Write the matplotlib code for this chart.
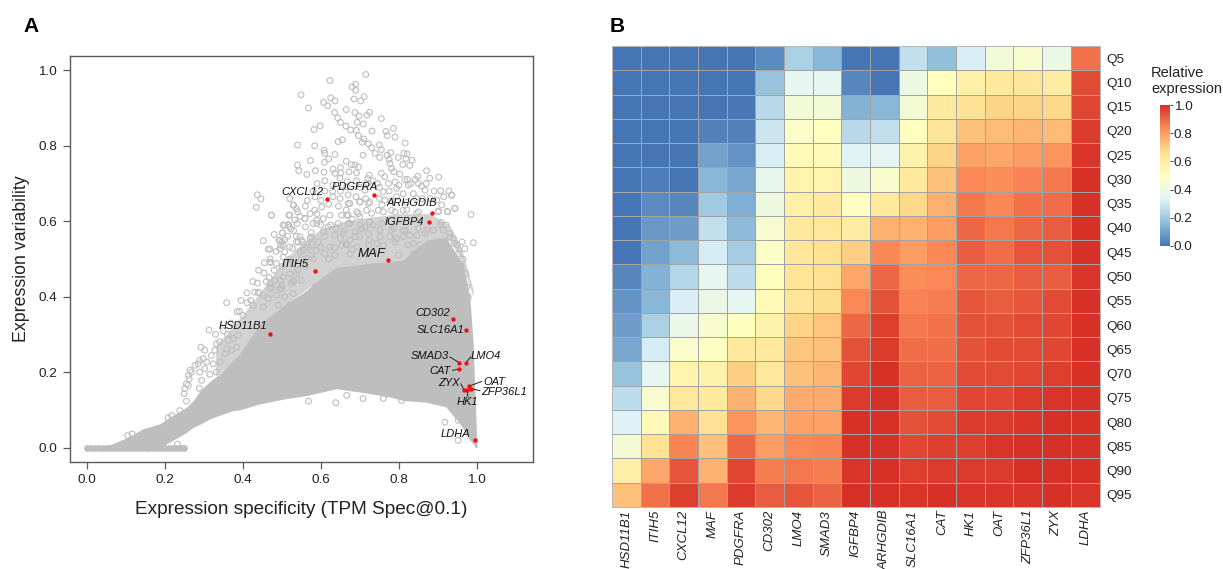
import matplotlib
matplotlib.use("Agg")
import matplotlib.pyplot as plt
from matplotlib.colors import LinearSegmentedColormap

plt.rcParams['font.family'] = ['Liberation Sans', 'DejaVu Sans']

W, H = 1223, 569

# ---------- panel A data ----------
mass_x = [.05,.10,.144,.187,.204,.255,.273,.29,.315,.341,.375,.392,.444,.512,.564,.58,.64,.70,.726,.777,.81,.87,.92,.956,.965,.982,.99,.996,1.0]
mass_upper = [.004,.025,.05,.063,.075,.107,.125,.151,.175,.196,.232,.249,.329,.382,.417,.435,.478,.485,.489,.493,.497,.55,.558,.50,.489,.398,.284,.12,.01]
mass_lower = [0,0,0,0,.01,.04,.054,.062,.076,.086,.098,.10,.116,.13,.138,.142,.156,.147,.143,.134,.125,.12,.108,.064,.05,.02,.01,0,0]

sparse_x = [.33,.39,.45,.50,.55,.60,.66,.72,.80,.88,.93,.96,.99]
sparse_upper = [.27,.34,.42,.49,.54,.58,.60,.61,.62,.62,.59,.53,.42]
sparse_lower = [.19,.24,.32,.37,.41,.45,.47,.48,.49,.54,.55,.50,.40]

zero_x = [0,.01,.02,.03,.04,.05,.06,.07,.08,.09,.10,.11,.12,.13,.14,.15,.16,.17,.18,.19,.20,.21,.22,.23,.24,.25]
zero_y = [0]*len(zero_x)

gene_x = [.715,.623,.689,.680,.689,.549,.625,.711,.685,.702,.636,.607,.617,.568,.665,.687,.725,.718,.635,.643,.698,.755,.650,.693,.709,.664,.598,.582,.676,.691,.731,.786,.767,.770,.790,.696,.644,.655,.710,.706,.722,.816,.540,.584,.730,.750,.755,.608,.610,.636,.620,.708,.739,.779,.813,.821,.770,.751,.798,.818,.573,.609,.665,.834,.775,.777,.678,.687,.696,.540,.543,.586,.564,.631,.650,.608,.636,.651,.672,.691,.724,.755,.781,.787,.810,.828,.802,.871,.848,.842,.879,.902,.822,.764,.720,.610,.649,.667,.691,.734,.773,.790,.824,.858,.867,.907,.928,.936,.897,.837,.794,.760,.713,.666,.631,.943,.985,.924,.901,.845,.811,.794,.764,.725,.700,.674,.649,.631,.473,.529,.537,.560,.584,.602,.572,.546,.520,.533,.516,.507,.559,.589,.606,.623,.653,.670,.696,.717,.747,.781,.811,.845,.909,.501,.492,.507,.503,.495,.469,.469,.520,.537,.550,.555,.567,.576,.593,.606,.619,.636,.644,.653,.674,.687,.674,.713,.725,.751,.781,.811,.828,.725,.760,.794,.837,.623,.636,.610,.589,.563,.529,.503,.486,.520,.529,.503,.482,.469,.469,.495,.962,.991,.969,.943,.931,.914,.888,.871,
          .437,.446,.434,.473,.452,.465,.471,.454,.467,.518,.503,.516,.523,.501,.495,.497,.507,.537,.546,.542,.553,.520,.530,.539,.559,.572,.576,.546,.527,.559,.589,.580,.437,.430,.439,.452,.465,.358,.411,.426,.473,.495,.499,.524,.486,.507,.529,.550,.537,.490,.452,.520,
          .391,.313,.330,.292,.332,.328,.302,.319,.289,.298,.307,.277,.285,.324,.264,.260,.268,.289,.302,.315,.332,.262,.255,.251,.260,.249,.288,.255,.294,.342,.354,.362,.375,.388,.358,.371,.384,.217,.208,.238,.104,.116,.232,
          .807,.918,.952,.952,.638,.568,.708,.666,.76,
          .910,.925,.944,.935,.901,.950,.965,.972,.974,.978,.953,.959,.931,.921,.940,
          .670,.700,.722,.756,.692,.666,.700,.730,.760,.790,.820,.850,.670,.705,.734,.756,.786,.816,.850,.888,.906,.658,.687,.722,.752,.777,.811,.846,.867,.666,.692,.722,.743,.790,.824,.854,.675,.734,.799,.837,.863,
          .480,.515,.530,.560,.575,.590,.600,.610,.625,.640,.660,.550,.575,.600,.620,.635,.650,.665,.680,.700,.700,.680,.665,.645,.620,.600,.585,.565,.540,.520,.500,.485,.470,.455,.440,.425,.410,.395,.385,.370,.350,.340,.480,.500,.520,.540,.560,.580,.500,.460,.530,.440,.420,.400,.360,
          .700,.720,.745,.750,.775,.800,.815,.830,.850,.870,.890,.915,.880,.860,.820,.780,.750,.715,.690,.670,.650,.630,.610,.590,.580]
gene_y = [.989,.973,.963,.956,.947,.935,.927,.930,.924,.919,.919,.915,.906,.900,.896,.888,.889,.881,.888,.874,.879,.872,.862,.862,.858,.852,.853,.843,.842,.841,.839,.846,.838,.827,.823,.827,.811,.816,.818,.809,.805,.807,.802,.800,.795,.802,.790,.788,.780,.777,.765,.775,.780,.782,.780,.778,.775,.769,.769,.766,.761,.756,.759,.762,.764,.753,.750,.749,.744,.749,.734,.734,.724,.738,.742,.730,.727,.728,.731,.728,.722,.727,.740,.731,.750,.748,.725,.734,.719,.711,.714,.717,.711,.718,.713,.707,.714,.705,.707,.707,.700,.704,.696,.693,.682,.681,.680,.669,.656,.673,.687,.678,.682,.691,.696,.634,.618,.626,.627,.660,.673,.665,.656,.651,.651,.647,.660,.665,.616,.642,.633,.640,.629,.638,.620,.613,.616,.603,.591,.589,.607,.603,.607,.616,.616,.616,.620,.629,.629,.629,.629,.620,.597,.569,.550,.551,.536,.527,.526,.492,.532,.545,.550,.523,.532,.558,.545,.572,.585,.563,.594,.536,.594,.572,.550,.585,.598,.576,.576,.576,.563,.550,.536,.554,.541,.532,.510,.514,.523,.501,.488,.505,.488,.461,.443,.452,.443,.435,.421,.421,.545,.543,.527,.541,.558,.576,.576,.576,
          .670,.659,.637,.616,.548,.526,.490,.463,.451,.616,.590,.590,.579,.569,.548,.536,.519,.560,.559,.545,.545,.660,.643,.594,.607,.554,.536,.519,.528,.528,.594,.594,.436,.412,.412,.404,.395,.384,.384,.377,.426,.443,.421,.435,.404,.399,.408,.443,.461,.377,.373,.377,
          .361,.311,.300,.266,.275,.258,.258,.244,.231,.236,.227,.218,.222,.222,.205,.191,.200,.200,.209,.194,.200,.182,.169,.156,.165,.143,.157,.123,.178,.227,.249,.284,.289,.298,.262,.258,.266,.085,.079,.098,.032,.036,.009,
          .125,.067,.019,.072,.119,.123,.130,.138,.130,
          .643,.625,.634,.669,.625,.537,.499,.461,.426,.399,.514,.479,.568,.590,.554,
          .647,.652,.647,.643,.625,.616,.612,.621,.625,.625,.630,.625,.594,.581,.590,.594,.581,.576,.581,.576,.590,.568,.559,.568,.559,.559,.559,.563,.568,.537,.532,.537,.541,.545,.537,.537,.514,.519,.510,.514,.528,
          .565,.560,.575,.585,.570,.620,.590,.560,.590,.580,.575,.500,.510,.530,.500,.530,.555,.540,.525,.560,.590,.605,.630,.640,.645,.655,.665,.655,.625,.585,.545,.520,.500,.490,.470,.440,.410,.390,.360,.330,.310,.280,.470,.480,.500,.470,.480,.500,.430,.440,.440,.410,.390,.350,.300,
          .690,.700,.700,.690,.680,.695,.710,.700,.700,.700,.680,.665,.660,.660,.650,.655,.660,.660,.665,.670,.680,.680,.680,.700,.680]

marked = ['CXCL12','PDGFRA','ARHGDIB','IGFBP4','MAF','ITIH5','HSD11B1','CD302','SLC16A1','SMAD3','LMO4','CAT','ZYX','HK1','OAT','ZFP36L1','LDHA']
marked_x = [.616,.736,.884,.877,.773,.584,.469,.938,.973,.955,.972,.955,.9675,.975,.981,.984,.995]
marked_y = [.659,.669,.6215,.598,.4975,.4675,.302,.340,.3125,.225,.225,.209,.152,.153,.163,.156,.0194]
label_x = [.552,.687,.834,.813,.730,.535,.400,.888,.908,.880,1.023,.905,.928,.977,1.044,1.070,.946]
label_y = [.678,.690,.647,.598,.512,.486,.321,.358,.312,.242,.244,.204,.172,.121,.175,.146,.037]
label_size = [8,8,8,8,9.5,8,8,8,8,8,8,8,8,8,8,8,8]
lead_genes = ['SMAD3','LMO4','CAT','ZYX','OAT','ZFP36L1','HK1']
lead_x = [.931,.984,.938,.959,1.012,1.008,.977]
lead_y = [.240,.240,.2045,.169,.175,.151,.1336]

x_ticks = [0.0,0.2,0.4,0.6,0.8,1.0]
y_ticks = [0.0,0.2,0.4,0.6,0.8,1.0]

# ---------- panel B data ----------
genes = ['HSD11B1','ITIH5','CXCL12','MAF','PDGFRA','CD302','LMO4','SMAD3','IGFBP4','ARHGDIB','SLC16A1','CAT','HK1','OAT','ZFP36L1','ZYX','LDHA']
quantiles = ['Q5','Q10','Q15','Q20','Q25','Q30','Q35','Q40','Q45','Q50','Q55','Q60','Q65','Q70','Q75','Q80','Q85','Q90','Q95']
heat = [
 [0,0,0,0,0,.05,.22,.15,0,0,.27,.17,.32,.42,.46,.39,.88],
 [0,0,0,0,0,.18,.36,.36,.04,0,.40,.50,.58,.62,.63,.60,.95],
 [0,0,0,0,.01,.25,.43,.43,.14,.15,.44,.61,.65,.69,.69,.68,.96],
 [0,0,0,.03,.03,.29,.47,.50,.25,.27,.50,.64,.73,.74,.75,.74,.98],
 [0,0,0,.10,.07,.32,.53,.53,.34,.35,.57,.69,.79,.78,.80,.82,.99],
 [0,.02,0,.15,.11,.37,.56,.56,.41,.46,.62,.73,.84,.83,.85,.87,1.0],
 [0,.05,.04,.20,.13,.41,.58,.61,.49,.62,.68,.76,.87,.84,.88,.89,1.0],
 [0,.08,.09,.27,.16,.45,.62,.63,.60,.76,.76,.80,.90,.87,.90,.92,1.0],
 [0,.10,.16,.31,.21,.48,.63,.66,.70,.84,.80,.84,.92,.89,.93,.94,1.0],
 [.04,.14,.24,.36,.26,.50,.64,.66,.78,.90,.83,.84,.90,.90,.92,.92,.99],
 [.07,.15,.32,.39,.36,.53,.64,.67,.84,.94,.85,.86,.93,.92,.93,.95,1.0],
 [.09,.22,.38,.46,.50,.57,.69,.72,.90,.97,.87,.88,.94,.94,.95,.96,1.0],
 [.11,.31,.47,.49,.62,.61,.72,.73,.94,.98,.89,.89,.94,.95,.95,.96,1.0],
 [.18,.36,.56,.57,.70,.63,.73,.75,.96,1.0,.91,.91,.95,.95,.96,.97,1.0],
 [.26,.45,.63,.62,.76,.68,.77,.77,.98,1.0,.92,.92,.96,.96,.98,.99,1.0],
 [.33,.53,.76,.66,.82,.75,.79,.79,1.0,1.0,.94,.95,.98,.98,.99,1.0,1.0],
 [.44,.65,.85,.73,.90,.80,.84,.85,1.0,1.0,.96,.97,.97,.99,1.0,1.0,1.0],
 [.59,.78,.93,.76,.96,.86,.87,.86,.99,1.0,.97,.98,.98,.98,1.0,1.0,1.0],
 [.73,.88,.97,.87,.98,.92,.93,.91,1.0,1.0,.99,1.0,.99,.99,.99,1.0,.99],
]
cbar_ticks = [0.0,0.2,0.4,0.6,0.8,1.0]
palette = ['#4575B4','#91BFDB','#E0F3F8','#FFFFBF','#FEE090','#FC8D59','#D73027']


def px_axes(fig, left, top, right, bottom):
    return fig.add_axes([left/W, 1-bottom/H, (right-left)/W, (bottom-top)/H])


fig = plt.figure(figsize=(W/100, H/100), dpi=100)
GRAY = '#bebebe'
DARK = '#5a5a5a'

# ---------- panel A ----------
ax = px_axes(fig, 69.5, 56, 533, 461.5)
ax.set_xlim(-0.045, 1.144)
ax.set_ylim(-0.037, 1.038)
ax.fill_between(sparse_x, sparse_lower, sparse_upper, color='#d2d2d2', lw=0, zorder=1)
ax.fill_between(mass_x, mass_lower, mass_upper, color=GRAY, lw=0, zorder=2)
ax.scatter(gene_x, gene_y, s=17, facecolors='none', edgecolors=GRAY, linewidths=0.8, zorder=3)
ax.scatter(zero_x, zero_y, s=24, color=GRAY, linewidths=0, zorder=3)
for name, sx, sy in zip(lead_genes, lead_x, lead_y):
    i = marked.index(name)
    ax.plot([sx, marked_x[i]], [sy, marked_y[i]], color='#222222', lw=0.7, zorder=4)
ax.scatter(marked_x, marked_y, s=10, color='#ee1111', linewidths=0, zorder=5)
for name, lx, ly, fs in zip(marked, label_x, label_y, label_size):
    ax.text(lx, ly, name, style='italic', fontsize=fs, ha='center', va='center', color='#111111', zorder=6)
ax.set_xticks(x_ticks)
ax.set_yticks(y_ticks)
ax.set_xticklabels([f'{v:.1f}' for v in x_ticks])
ax.set_yticklabels([f'{v:.1f}' for v in y_ticks])
ax.tick_params(length=5, width=0.9, color=DARK, labelsize=9.7, labelcolor='#222222', pad=4)
for s in ax.spines.values():
    s.set_color(DARK)
    s.set_linewidth(1.0)
ax.set_xlabel('Expression specificity (TPM Spec@0.1)', fontsize=13.7, color='#222222', labelpad=10.5)
ax.set_ylabel('Expression variability', fontsize=12.8, color='#222222', labelpad=6)

fig.text(23/W, 1-32/H, 'A', fontsize=15, fontweight='bold', va='baseline')
fig.text(610/W, 1-32/H, 'B', fontsize=15, fontweight='bold', va='baseline')

# ---------- panel B ----------
cmap = LinearSegmentedColormap.from_list('expr', palette, N=256)
hx = px_axes(fig, 612, 46, 1099.5, 507)
mesh = hx.pcolormesh(heat, cmap=cmap, vmin=0, vmax=1, edgecolors='#a3a3a3', linewidth=0.45)
hx.set_ylim(len(quantiles), 0)
hx.set_xticks([i+0.5 for i in range(len(genes))])
hx.set_xticklabels(genes, rotation=90, style='italic', fontsize=9.5, color='#222222', ha='center', va='top')
hx.set_yticks([i+0.5 for i in range(len(quantiles))])
hx.set_yticklabels(quantiles, fontsize=9.7, color='#222222')
hx.yaxis.tick_right()
hx.tick_params(length=0, pad=5)
hx.tick_params(axis='x', pad=2)
for s in hx.spines.values():
    s.set_color('#b8b8b8')
    s.set_linewidth(0.7)

cax = px_axes(fig, 1159.5, 105, 1169.5, 246)
cb = fig.colorbar(mesh, cax=cax)
cb.set_ticks(cbar_ticks)
cb.set_ticklabels([f'{v:.1f}' for v in cbar_ticks])
cb.ax.tick_params(length=2, width=0.7, color='#444444', labelsize=9.7, labelcolor='#222222', pad=1)
cb.outline.set_visible(False)
fig.text(1151/W, 1-81/H, 'Relative\nexpression', fontsize=10.5, color='#222222', va='center', ha='left', linespacing=1.15)

fig.savefig('out.png', dpi=100)
